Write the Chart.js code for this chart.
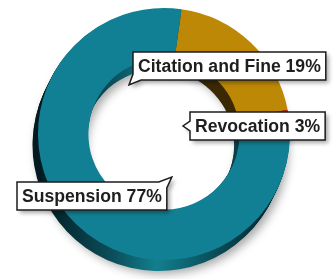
<!DOCTYPE html>
<html>
<head>
<meta charset="utf-8">
<script src="https://cdn.jsdelivr.net/npm/chart.js@4/dist/chart.umd.min.js"></script>
<style>
  html, body { margin: 0; padding: 0; background: #fff; }
  #wrap { width: 333px; height: 279px; }
</style>
</head>
<body>
<div id="wrap"><canvas id="penalty-chart" width="333" height="279"></canvas></div>
<script>
// slices in drawing order (clockwise from just right of 12 o'clock)
const categories = ['Citation and Fine', 'Revocation', 'Suspension'];
// arc sizes as drawn in the picture (share of the ring)
const shares = [19.7, 0.4, 79.9];
// the percentages printed on the callouts
const pctLabels = ['19%', '3%', '77%'];

const topColors = ['#be8807', '#c0262c', '#128094'];
const DEPTH = 11;

function sideFill(ctx, i, left, right) {
  if (i === 2) {
    const g = ctx.createLinearGradient(left, 0, right, 0);
    g.addColorStop(0, '#021a20');
    g.addColorStop(0.3, '#0b4f5b');
    g.addColorStop(0.47, '#127f8e');
    g.addColorStop(0.7, '#0a4d58');
    g.addColorStop(1, '#021a20');
    return g;
  }
  return i === 0 ? '#3b2903' : '#4a0d0d';
}

// extruded side of the ring, drawn under the top face
const depthPlugin = {
  id: 'depth',
  beforeDatasetsDraw(chart) {
    const ctx = chart.ctx;
    const arcs = chart.getDatasetMeta(0).data;
    const {left, right} = chart.chartArea;
    ctx.save();
    for (let d = DEPTH; d >= 1; d--) {
      arcs.forEach((arc, i) => {
        const p = arc.getProps(['x', 'y', 'startAngle', 'endAngle', 'innerRadius', 'outerRadius'], true);
        const ox = p.x - d * 0.5, oy = p.y + d;
        ctx.beginPath();
        ctx.arc(ox, oy, p.outerRadius, p.startAngle, p.endAngle);
        ctx.arc(ox, oy, p.innerRadius, p.endAngle, p.startAngle, true);
        ctx.closePath();
        if (d === DEPTH) {
          ctx.shadowColor = 'rgba(0,0,0,0.35)';
          ctx.shadowBlur = 10;
          ctx.shadowOffsetX = 4;
          ctx.shadowOffsetY = 3;
        } else {
          ctx.shadowColor = 'transparent';
        }
        ctx.fillStyle = sideFill(ctx, i, left, right);
        ctx.fill();
      });
    }
    ctx.restore();
  }
};

// speech-bubble callouts, placed from the ring centre
const callouts = [
  {i: 0, dx: -31, dy: -82, tail: 'bottomLeft'},
  {i: 1, dx: 26, dy: -22, tail: 'left'},
  {i: 2, dx: -147, dy: 48, tail: 'topRight'}
];

const calloutPlugin = {
  id: 'callouts',
  afterDraw(chart) {
    const ctx = chart.ctx;
    const arc0 = chart.getDatasetMeta(0).data[0];
    const cx = arc0.x, cy = arc0.y;
    ctx.save();
    ctx.font = 'bold 17.6px "Liberation Sans", Arial, sans-serif';
    ctx.textBaseline = 'middle';
    callouts.forEach(c => {
      const text = categories[c.i] + ' ' + pctLabels[c.i];
      const w = ctx.measureText(text).width + 10;
      const h = 28;
      const x = cx + c.dx, y = cy + c.dy;
      ctx.beginPath();
      if (c.tail === 'bottomLeft') {
        ctx.moveTo(x, y);
        ctx.lineTo(x + w, y);
        ctx.lineTo(x + w, y + h);
        ctx.lineTo(x + 8, y + h);
        ctx.lineTo(x - 4, y + h + 5);
        ctx.lineTo(x, y + h - 6);
      } else if (c.tail === 'left') {
        ctx.moveTo(x, y);
        ctx.lineTo(x + w, y);
        ctx.lineTo(x + w, y + h);
        ctx.lineTo(x, y + h);
        ctx.lineTo(x, y + h / 2 + 5);
        ctx.lineTo(x - 7, y + h / 2);
        ctx.lineTo(x, y + h / 2 - 5);
      } else {
        ctx.moveTo(x, y);
        ctx.lineTo(x + w - 8, y);
        ctx.lineTo(x + w + 5, y - 5);
        ctx.lineTo(x + w, y + 6);
        ctx.lineTo(x + w, y + h);
        ctx.lineTo(x, y + h);
      }
      ctx.closePath();
      ctx.shadowColor = 'rgba(0,0,0,0.35)';
      ctx.shadowBlur = 4;
      ctx.shadowOffsetX = 3;
      ctx.shadowOffsetY = 3;
      ctx.fillStyle = '#fff';
      ctx.fill();
      ctx.shadowColor = 'transparent';
      ctx.lineWidth = 1.5;
      ctx.strokeStyle = '#1c1c1c';
      ctx.stroke();
      ctx.fillStyle = '#1e1e1e';
      ctx.fillText(text, x + 5, y + h / 2 + 1);
    });
    ctx.restore();
  }
};

const ctx = document.getElementById('penalty-chart').getContext('2d');
const chart = new Chart(ctx, {
  type: 'doughnut',
  data: {
    labels: categories,
    datasets: [{
      data: shares,
      backgroundColor: topColors,
      borderWidth: 0
    }]
  },
  options: {
    responsive: false,
    animation: false,
    rotation: 8,
    cutout: '60%',
    layout: { padding: { left: 38, right: 43, top: 8, bottom: 19 } },
    plugins: {
      legend: { display: false },
      tooltip: { enabled: false }
    }
  },
  plugins: [depthPlugin, calloutPlugin]
});
</script>
</body>
</html>
